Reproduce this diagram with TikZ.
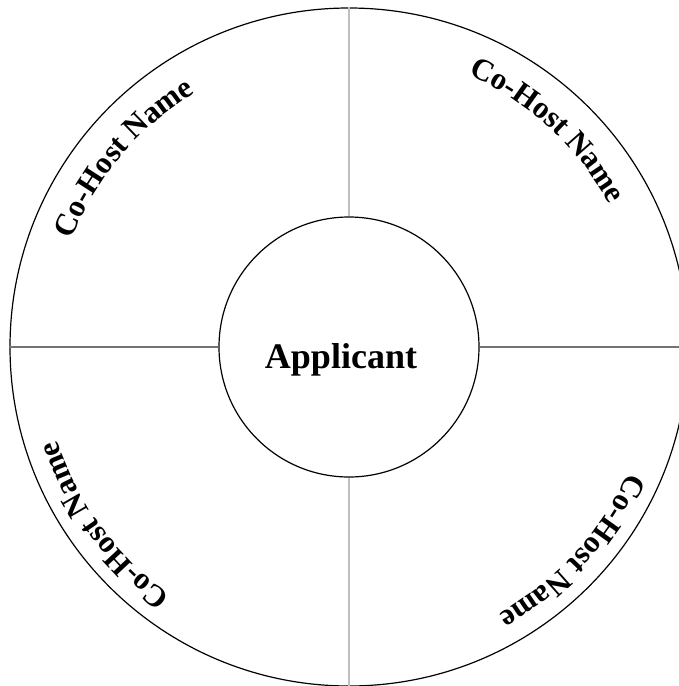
\documentclass[tikz,border=0pt]{standalone}
\usepackage{fontspec}
\setmainfont{Liberation Serif}
\usetikzlibrary{decorations.text}
\newcommand{\hostfont}{\fontsize{31}{31}\selectfont\bfseries}

\begin{document}
\begin{tikzpicture}[x=1pt, y=1pt,
    ring/.style={circle, draw, line width=1.2pt, inner sep=0pt},
    spoke/.style={line width=1.5pt, draw=black!25},
    bar/.style={line width=1.2pt, draw=black!55},
    hostlabel/.style={decorate, decoration={text along path, text align=center,
        text={|\hostfont|Co-Host Name}}}
]
    \useasboundingbox (0,0) rectangle (678,-686);
    \node[ring, minimum size=678] (rim) at (349,-347) {};
    \node[ring, minimum size=260] (hub) at (349,-347) {};
    \node[font=\fontsize{36}{36}\selectfont\bfseries, anchor=base] (applicant) at (341,-368) {Applicant};

    \draw[spoke] (hub.north) -- (rim.north);
    \draw[spoke] (hub.south) -- (rim.south);
    \draw[bar]   (hub.west)  -- (rim.west);
    \draw[bar]   (hub.east)  -- (rim.east);

    \path[hostlabel] ([shift={(160:297)}]hub.center)   arc[start angle=160,   end angle=120,   radius=297];
    \path[hostlabel] ([shift={(67.5:297)}]hub.center)  arc[start angle=67.5,  end angle=27.5,  radius=297];
    \path[hostlabel] ([shift={(-22.5:306)}]hub.center) arc[start angle=-22.5, end angle=-62.5, radius=306];
    \path[hostlabel] ([shift={(236:306)}]hub.center)   arc[start angle=236,   end angle=196,   radius=306];
\end{tikzpicture}
\end{document}
